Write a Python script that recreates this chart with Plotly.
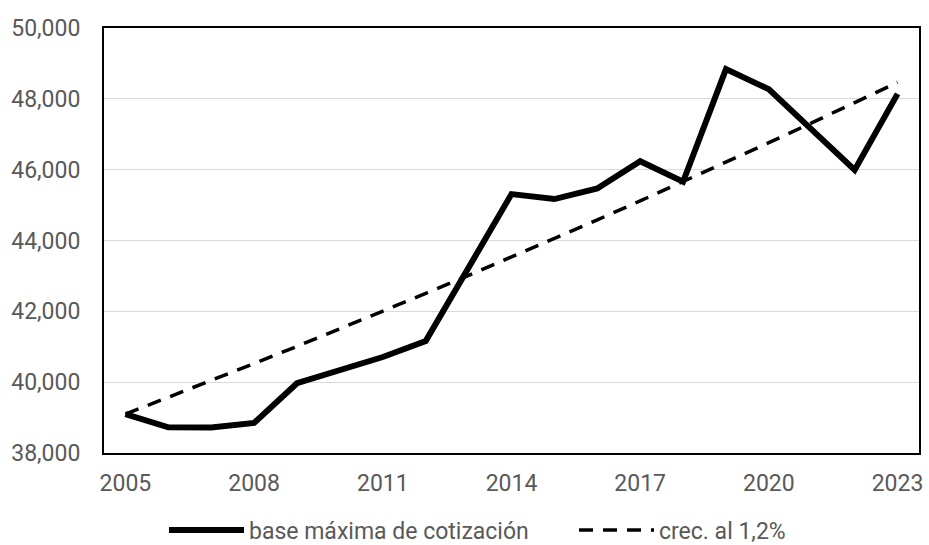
import plotly.graph_objects as go

years = list(range(2005, 2024))
base_maxima = [39100, 38725, 38720, 38850, 39970, 40330, 40710, 41160, 43235, 45310,
               45170, 45470, 46240, 45660, 48840, 48270, 47130, 45990, 48140]
crec_1_2 = [39100, 39569, 40044, 40525, 41011, 41503, 42001, 42505, 43015, 43532,
            44054, 44583, 45118, 45659, 46207, 46762, 47323, 47891, 48466]
x_ticks = [2005, 2008, 2011, 2014, 2017, 2020, 2023]
y_ticks = [38000, 40000, 42000, 44000, 46000, 48000, 50000]

text_color = "#595959"
font_family = "Roboto, Arial, sans-serif"
W, H = 929, 545

fig = go.Figure()
fig.add_trace(go.Scatter(
    x=years, y=base_maxima, mode="lines", name="base máxima de cotización",
    line=dict(color="#000000", width=6), legend="legend",
))
fig.add_trace(go.Scatter(
    x=years, y=crec_1_2, mode="lines", name="crec. al 1,2%",
    line=dict(color="#000000", width=3.5, dash="14px,10px"), legend="legend2",
))

legend_common = dict(
    orientation="h", xref="container", yref="container",
    xanchor="left", y=15 / H, yanchor="middle",
    itemwidth=75, font=dict(size=23, color=text_color, family=font_family),
    bgcolor="rgba(0,0,0,0)",
)

fig.update_layout(
    width=W, height=H,
    margin=dict(l=104, r=6, t=28, b=92),
    plot_bgcolor="white", paper_bgcolor="white",
    font=dict(family=font_family, size=23, color=text_color),
    showlegend=True,
    legend=dict(x=164 / W, **legend_common),
    legend2=dict(x=574 / W, **legend_common),
)
fig.update_xaxes(
    range=[2004.5, 2023.5], tickvals=x_ticks, ticktext=[str(v) for v in x_ticks],
    showgrid=False, zeroline=False,
    showline=True, mirror=True, linecolor="#000000", linewidth=2,
    ticks="", ticklabelstandoff=8,
)
fig.update_yaxes(
    range=[38000, 50000], tickvals=y_ticks, tickformat=",",
    showgrid=True, gridcolor="#d9d9d9", gridwidth=1.3, zeroline=False,
    showline=True, mirror=True, linecolor="#000000", linewidth=2,
    ticks="", ticklabelstandoff=17,
)

fig.write_html("out.html")
